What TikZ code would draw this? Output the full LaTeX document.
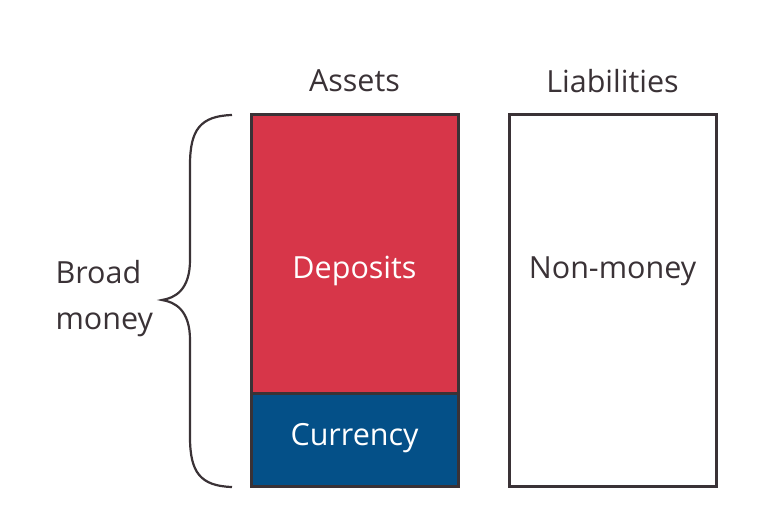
\documentclass[tikz,border=0pt]{standalone}
\usepackage{fontspec}
\setmainfont{Open Sans}
\definecolor{ink}{HTML}{3A3236}
\definecolor{depred}{HTML}{D73649}
\definecolor{curblue}{HTML}{045088}
\begin{document}
\begin{tikzpicture}[x=1pt,y=-1pt,
  box/.style={draw=ink,line width=3pt},
  lbl/.style={font=\fontsize{30.5}{34}\selectfont,text=ink},
  inlbl/.style={font=\fontsize{30.5}{34}\selectfont,text=white}]
\useasboundingbox (0,0) rectangle (770,526);
\fill[depred] (251,115) rectangle (458,393);
\fill[curblue] (251,393) rectangle (458,486);
\draw[box] (251,393) -- (458,393);
\draw[box] (251,115) rectangle (458,486);
\draw[box] (509,115) rectangle (716,486);
\node[inlbl] (dep) at (354.5,271) {Deposits};
\node[inlbl] (cur) at (354.5,438) {Currency};
\node[lbl] (nm) at (612.5,271) {Non-money};
\node[lbl] (as) at (354.5,81) {Assets};
\node[lbl] (li) at (612.5,81) {Liabilities};
\node[lbl,align=left,anchor=west,font=\fontsize{30.5}{46}\selectfont] (bm) at (52,299) {Broad\\money};
\draw[ink,line width=2.2pt,line join=miter]
  (232,115) .. controls (200,116) and (190,130) .. (190,165)
  -- (190,260) .. controls (190,290) and (175,298) .. (162,300)
  .. controls (175,302) and (190,310) .. (190,340)
  -- (190,437) .. controls (190,472) and (200,486) .. (232,487);
\end{tikzpicture}
\end{document}
